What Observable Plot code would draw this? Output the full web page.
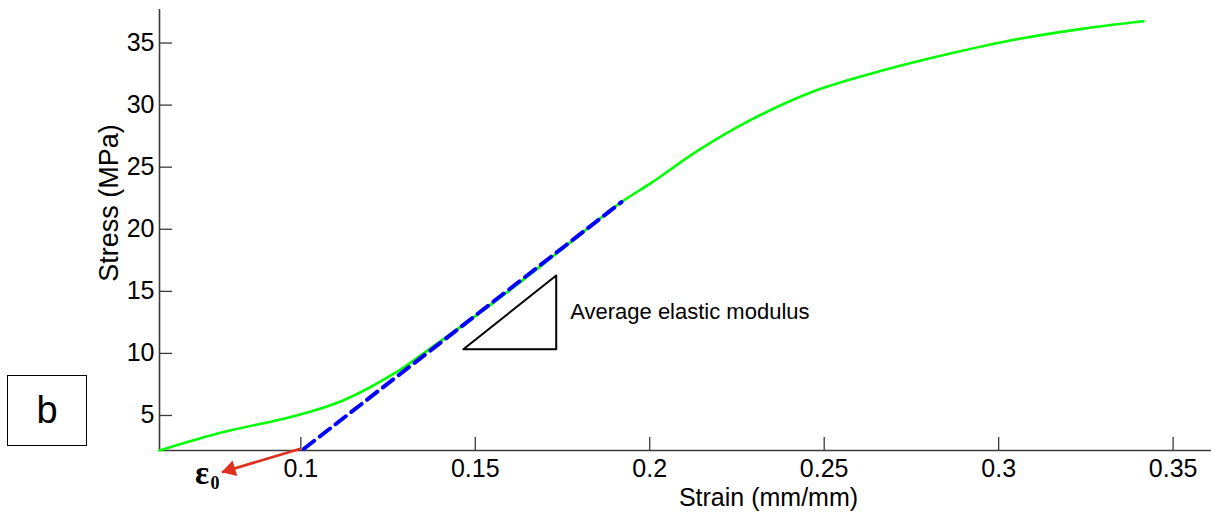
<!DOCTYPE html>
<html><head><meta charset="utf-8">
<script src="https://cdn.jsdelivr.net/npm/d3@7"></script>
<script src="https://cdn.jsdelivr.net/npm/@observablehq/plot@0.6"></script>
<style>
html,body{margin:0;padding:0;background:#fff;}
#wrap{position:relative;width:1211px;height:515px;}
#bbox{position:absolute;left:7px;top:375px;width:78px;height:69px;border:1.5px solid #000;font:38px "Liberation Sans",Arial,sans-serif;display:flex;align-items:center;justify-content:center;color:#000;}
</style></head><body><div id="wrap"><div id="chart"></div><div id="bbox">b</div></div>
<script>
// measured stress–strain curve
const strain = [0.0595, 0.0759, 0.0988, 0.1121, 0.1274, 0.1350, 0.1561, 0.1740, 0.1919, 0.2001, 0.2139, 0.2287, 0.2478, 0.2669, 0.2861, 0.3052, 0.3244, 0.3415];
const stress = [2.18, 3.53, 5.00, 6.21, 8.49, 9.97, 14.27, 18.20, 22.19, 23.67, 26.35, 28.77, 31.19, 32.80, 34.15, 35.30, 36.16, 36.75];
// linear fit (average elastic modulus)
const fitStrain = [0.1009, 0.1919];
const fitStress = [2.32, 22.19];
// slope triangle
const triStrain = [0.1466, 0.1732, 0.1732, 0.1466];
const triStress = [10.33, 16.28, 10.33, 10.33];
// epsilon_0 arrow
const arrowStrain = [0.0999, 0.0774];
const arrowStress = [2.32, 0.43];
// axes
const xDomain = [0.0595, 0.361];
const yDomain = [2.18, 37.7];
const xTicks = [0.1, 0.15, 0.2, 0.25, 0.3, 0.35];
const xTickLabels = ["0.1", "0.15", "0.2", "0.25", "0.3", "0.35"];
const yTicks = [5, 10, 15, 20, 25, 30, 35];
const yTickLabels = ["5", "10", "15", "20", "25", "30", "35"];
const xLabel = "Strain (mm/mm)";
const yLabel = "Stress (MPa)";
const noteLabel = "Average elastic modulus";

const curve = strain.map((s, i) => ({x: s, y: stress[i]}));
const fit = fitStrain.map((s, i) => ({x: s, y: fitStress[i]}));
const tri = triStrain.map((s, i) => ({x: s, y: triStress[i]}));
const font = '"Liberation Sans", Arial, sans-serif';
const serif = '"Liberation Serif", "Times New Roman", serif';
const axisColor = "#3a3a3a";
const red = "#e0301e";

const chart = Plot.plot({
  width: 1211, height: 515,
  marginLeft: 159, marginRight: 0, marginTop: 9, marginBottom: 65,
  style: {fontFamily: font, background: "#fff", color: "#000", overflow: "visible"},
  x: {domain: xDomain},
  y: {domain: yDomain},
  marks: [
    Plot.axisX({ticks: xTicks, tickFormat: d => xTickLabels[xTicks.indexOf(d)], tickSize: -13, tickPadding: 22, fontSize: 25, stroke: axisColor, strokeWidth: 1.3, label: null, fill: "#000"}),
    Plot.axisY({ticks: yTicks, tickFormat: d => yTickLabels[yTicks.indexOf(d)], tickSize: -13, tickPadding: 18, fontSize: 25, stroke: axisColor, strokeWidth: 1.3, label: null, fill: "#000"}),
    Plot.ruleY([yDomain[0]], {stroke: axisColor, strokeWidth: 1.6}),
    Plot.ruleX([xDomain[0]], {stroke: axisColor, strokeWidth: 1.6}),
    Plot.line(curve, {x: "x", y: "y", stroke: "#00ff00", strokeWidth: 2.6, curve: "catmull-rom"}),
    Plot.line(fit, {x: "x", y: "y", stroke: "#0000ff", strokeWidth: 4, strokeDasharray: "13,7"}),
    Plot.line(tri, {x: "x", y: "y", stroke: "#000", strokeWidth: 2}),
    Plot.text([noteLabel], {x: triStrain[1], y: (triStress[1] + triStress[2]) / 2, dx: 14, textAnchor: "start", fontSize: 22, fill: "#000"}),
    Plot.link([0], {x1: arrowStrain[0], y1: arrowStress[0], x2: arrowStrain[1], y2: arrowStress[1], stroke: red, strokeWidth: 2.8}),
    Plot.dot([0], {x: arrowStrain[1], y: arrowStress[1], dx: 8.5, dy: -2.6, symbol: "triangle", r: 6, rotate: 253, fill: red, stroke: "none"}),
    Plot.text(["ε"], {x: arrowStrain[1], y: arrowStress[1], dx: -20, dy: 1, fontSize: 33, fontWeight: "bold", fontFamily: serif, fill: "#000"}),
    Plot.text(["0"], {x: arrowStrain[1], y: arrowStress[1], dx: -7, dy: 11, fontSize: 18, fontWeight: "bold", fontFamily: serif, fill: "#000"}),
    Plot.text([xLabel], {frameAnchor: "bottom", lineAnchor: "middle", textAnchor: "middle", dx: 83, dy: 47, fontSize: 25, fill: "#000"}),
    Plot.text([yLabel], {frameAnchor: "left", lineAnchor: "middle", textAnchor: "middle", dx: -50, dy: -27, rotate: -90, fontSize: 27, fill: "#000"})
  ]
});
document.getElementById("chart").appendChild(chart);
</script></body></html>
